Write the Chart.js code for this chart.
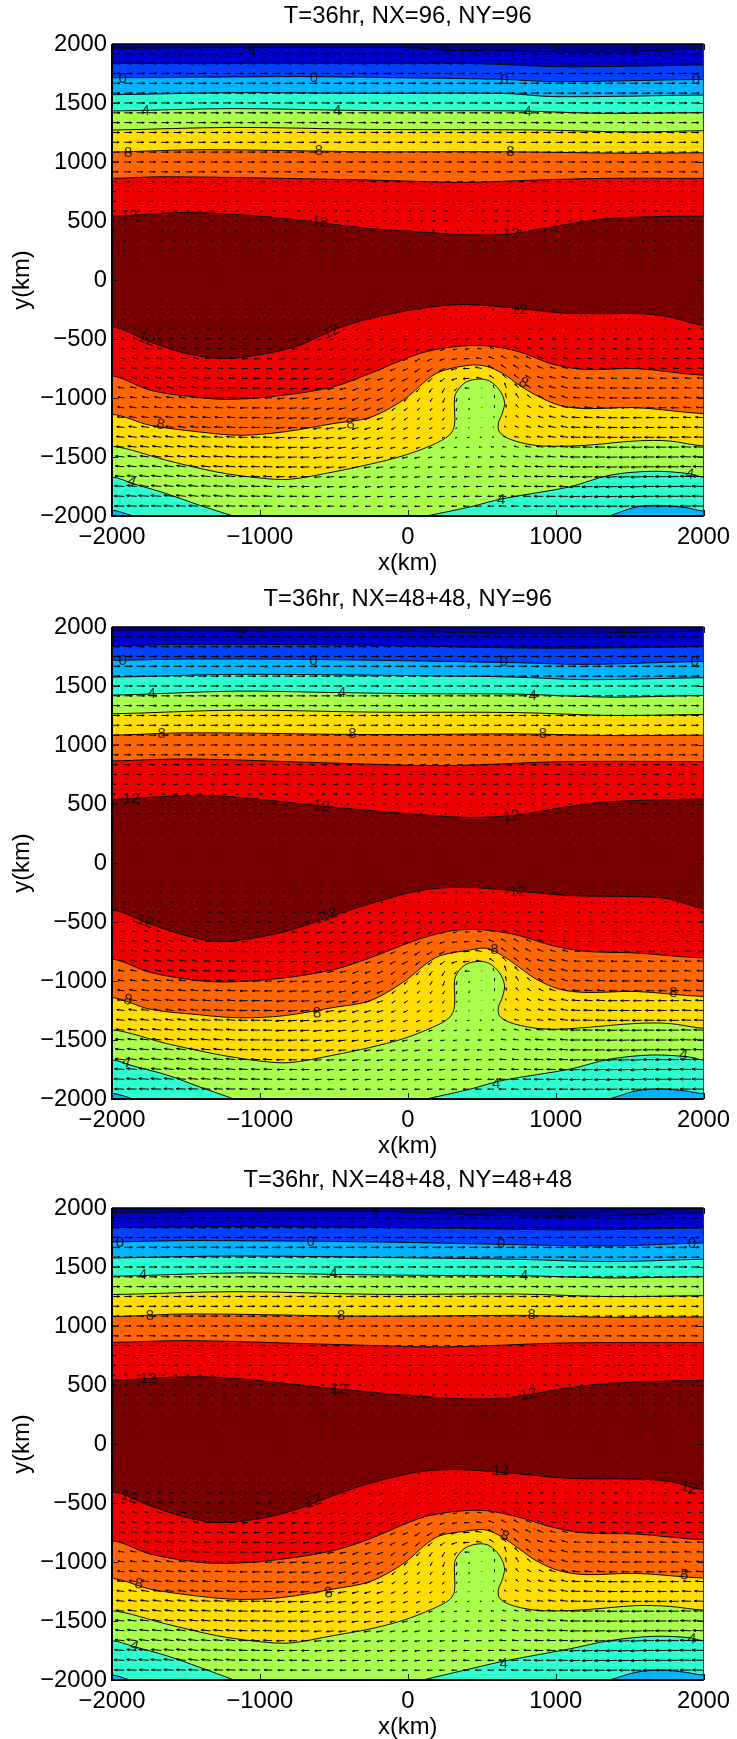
<!DOCTYPE html>
<html><head><meta charset="utf-8">
<script src="https://cdn.jsdelivr.net/npm/chart.js@4"></script>
<style>html,body{margin:0;padding:0;background:#fff;width:737px;height:1739px;overflow:hidden}
canvas{position:absolute;left:0}</style></head>
<body>
<canvas id="c0" width="737" height="580" style="top:0"></canvas>
<canvas id="c1" width="737" height="580" style="top:583px"></canvas>
<canvas id="c2" width="737" height="580" style="top:1164px"></canvas>
<script>
const titles=["T=36hr, NX=96, NY=96","T=36hr, NX=48+48, NY=96","T=36hr, NX=48+48, NY=48+48"];
const xTickStep=1000, yTickStep=500;
const bandColors=["#00008f","#0000cc","#0040ff","#00b4ff","#2cffd0","#aaff4d","#ffdd00","#ff6600","#ee0000","#770000"];

// contour lines, [x km, y km], panel 1
const p1a=[[-2000,1963],[-1181,1969],[0,1969],[237,1949],[1003,1935],[1543,1935],[2000,1960]];
const p1b=[[-2000,1836],[0,1836],[417,1836],[1003,1808],[1543,1812],[2000,1822]];
const p1c=[[-2000,1714],[-730,1723],[-258,1717],[642,1700],[1003,1680],[2000,1700]];
const p1d=[[-2000,1570],[-1181,1587],[-258,1581],[642,1581],[1003,1553],[2000,1567]];
const p1e=[[-2000,1432],[-1181,1452],[-258,1435],[755,1432],[1318,1412],[2000,1418]];
const p1f=[[-2000,1271],[-1181,1293],[-258,1276],[868,1271],[1543,1254],[2000,1265]];
const p1g=[[-2000,1084],[-1406,1104],[-258,1087],[642,1087],[1543,1073],[2000,1078]];
const p1h=[[-2000,861],[-1631,875],[-258,847],[372,827],[868,847],[1318,861],[2000,861]];
const p1i=[[-2000,541],[-1496,572],[-956,536],[-258,437],[80,408],[417,383],[687,389],[980,451],[1318,516],[1655,536],[2000,541]];
const p1j=[[-2000,-397],[-1743,-524],[-1496,-623],[-1226,-666],[-956,-623],[-730,-553],[-505,-425],[-258,-327],[80,-242],[372,-208],[755,-242],[1093,-284],[1543,-284],[1768,-312],[2000,-383]];
const p1k=[[-2000,-813],[-1743,-934],[-1406,-997],[-1181,-1011],[-843,-977],[-505,-906],[-258,-793],[80,-623],[305,-567],[530,-558],[755,-609],[980,-714],[1205,-759],[1543,-751],[2000,-807]];
const p1l=[[-2000,-1138],[-1743,-1231],[-1406,-1288],[-1136,-1316],[-843,-1288],[-505,-1217],[-258,-1166],[-33,-1019],[192,-793],[417,-722],[530,-731],[642,-793],[755,-892],[868,-977],[1025,-1062],[1205,-1090],[1543,-1081],[2000,-1132]];
const p1m=[[-2000,-1409],[-1631,-1528],[-1293,-1627],[-1001,-1678],[-798,-1689],[-505,-1627],[-258,-1562],[-33,-1490],[167,-1398],[282,-1314],[316,-1229],[316,-1000],[339,-932],[395,-864],[484,-839],[552,-856],[620,-932],[654,-1034],[640,-1127],[613,-1212],[620,-1288],[687,-1347],[842,-1398],[1000,-1409],[1205,-1401],[1543,-1364],[1768,-1364],[2000,-1406]];
const p1nL=[[-2000,-1670],[-1857,-1726],[-1631,-1811],[-1406,-1910],[-1181,-2000]];
const p1nR=[[125,-2000],[417,-1924],[642,-1853],[1093,-1754],[1363,-1655],[1655,-1621],[1903,-1641],[2000,-1670]];
const p1oL=[[-2000,-1952],[-1857,-2000]];
const p1oR=[[1363,-2000],[1543,-1924],[1678,-1910],[1880,-1929],[2000,-1958]];

// panel 2
const p2a=[[-2000,1972],[-1167,1966],[-217,1972],[416,1952],[1050,1943],[2000,1966]];
const p2b=[[-2000,1839],[-1484,1853],[-217,1844],[733,1822],[1367,1822],[2000,1833]];
const p2c=[[-2000,1717],[-1484,1728],[-534,1723],[733,1697],[1208,1683],[2000,1708]];
const p2d=[[-2000,1575],[-1167,1598],[100,1587],[733,1575],[1208,1553],[2000,1570]];
const p2e=[[-2000,1422],[-1167,1456],[-534,1445],[100,1434],[733,1431],[1367,1405],[2000,1420]];
const p2f=[[-2000,1264],[-1167,1295],[-217,1278],[733,1275],[1367,1250],[2000,1258]];
const p2g=[[-2000,1083],[-1484,1103],[-217,1088],[733,1094],[1367,1080],[2000,1083]];
const p2h=[[-2000,865],[-1484,882],[-534,848],[258,825],[1050,859],[2000,859]];
const p2i=[[-2000,539],[-1484,573],[-1167,559],[-534,477],[-59,423],[416,386],[733,406],[1050,471],[1367,519],[2000,542]];
const p2j=[[-2000,-398],[-1743,-517],[-1496,-616],[-1271,-667],[-956,-616],[-730,-545],[-505,-446],[-258,-347],[80,-234],[372,-205],[755,-239],[1093,-276],[1543,-285],[1768,-304],[2000,-384]];
const p2k=[[-2000,-814],[-1743,-927],[-1406,-998],[-1181,-1007],[-843,-975],[-505,-905],[-258,-805],[80,-644],[305,-573],[530,-568],[755,-616],[980,-701],[1205,-749],[1543,-763],[2000,-805]];
const p2l=[[-2000,-1140],[-1743,-1239],[-1406,-1287],[-1136,-1312],[-843,-1295],[-505,-1225],[-258,-1168],[-33,-1012],[192,-800],[417,-738],[530,-723],[642,-786],[755,-885],[868,-984],[1025,-1069],[1205,-1097],[1543,-1089],[2000,-1131]];
const p2m=[[-2000,-1414],[-1631,-1530],[-1293,-1621],[-1001,-1678],[-798,-1692],[-505,-1629],[-258,-1564],[-33,-1490],[167,-1393],[282,-1310],[316,-1215],[316,-995],[339,-925],[395,-858],[484,-834],[552,-852],[620,-930],[654,-1035],[640,-1135],[613,-1225],[620,-1295],[687,-1350],[842,-1396],[1000,-1409],[1205,-1394],[1543,-1360],[1768,-1360],[2000,-1400]];
const p2nL=[[-2000,-1669],[-1857,-1720],[-1631,-1796],[-1406,-1898],[-1181,-1997]];
const p2nR=[[125,-2000],[417,-1918],[642,-1842],[1093,-1748],[1363,-1663],[1655,-1627],[1903,-1644],[2000,-1669]];
const p2oL=[[-2000,-1952],[-1857,-2000]];
const p2oR=[[1363,-2000],[1543,-1932],[1700,-1915],[1880,-1932],[2000,-1955]];

// panel 3
const p3a=[[-2000,1960],[-1167,1972],[-217,1972],[574,1938],[1208,1932],[2000,1958]];
const p3b=[[-2000,1833],[-1167,1842],[100,1831],[733,1819],[1208,1814],[2000,1831]];
const p3c=[[-2000,1712],[-1484,1723],[-217,1712],[733,1689],[1367,1678],[2000,1703]];
const p3d=[[-2000,1576],[-1167,1593],[100,1576],[733,1565],[1367,1545],[2000,1565]];
const p3e=[[-2000,1421],[-1167,1449],[-534,1438],[100,1429],[733,1427],[1367,1407],[2000,1418]];
const p3f=[[-2000,1266],[-1167,1291],[-217,1268],[733,1271],[1367,1249],[2000,1257]];
const p3g=[[-2000,1079],[-1484,1102],[-217,1082],[733,1090],[1367,1073],[2000,1076]];
const p3h=[[-2000,861],[-1484,876],[-534,845],[258,823],[1050,856],[2000,859]];
const p3i=[[-2000,540],[-1484,570],[-1167,556],[-534,474],[-59,418],[416,381],[733,401],[1050,469],[1367,514],[2000,540]];
const p3j=[[-2000,-404],[-1743,-523],[-1496,-622],[-1271,-667],[-956,-622],[-730,-545],[-505,-438],[-258,-333],[80,-235],[372,-218],[755,-254],[1093,-291],[1543,-297],[1768,-317],[2000,-387]];
const p3k=[[-2000,-819],[-1743,-932],[-1406,-1003],[-1181,-1011],[-843,-975],[-505,-904],[-258,-805],[80,-630],[305,-574],[530,-565],[755,-622],[980,-706],[1205,-754],[1543,-763],[2000,-811]];
const p3l=[[-2000,-1139],[-1743,-1229],[-1406,-1291],[-1136,-1317],[-843,-1300],[-505,-1229],[-258,-1167],[-33,-1017],[192,-791],[417,-735],[530,-729],[642,-791],[755,-890],[868,-989],[1025,-1074],[1205,-1107],[1543,-1096],[2000,-1136]];
const p3m=[[-2000,-1413],[-1631,-1526],[-1293,-1624],[-1001,-1675],[-798,-1687],[-505,-1624],[-258,-1568],[-33,-1495],[167,-1398],[282,-1320],[316,-1245],[316,-1010],[339,-945],[395,-876],[484,-846],[552,-862],[620,-945],[654,-1050],[640,-1145],[613,-1235],[620,-1305],[687,-1360],[842,-1405],[1000,-1415],[1205,-1404],[1543,-1370],[1768,-1376],[2000,-1407]];
const p3nL=[[-2000,-1667],[-1857,-1715],[-1631,-1794],[-1406,-1893],[-1181,-1997]];
const p3nR=[[102,-2000],[417,-1907],[642,-1842],[1093,-1737],[1363,-1667],[1655,-1630],[1903,-1641],[2000,-1667]];
const p3oL=[[-2000,-1958],[-1880,-2000]];
const p3oR=[[1363,-2000],[1543,-1935],[1700,-1915],[1880,-1935],[2000,-1958]];

// contour labels: text, x km, y km, rotation deg
const labels1=[["-4",-1068,1955,0],["-4",242,1949,0],["-4",1520,1935,0],["0",-1928,1703,0],["0",-634,1712,0],["0",654,1695,0],["0",1948,1695,0],["4",-1773,1435,0],["4",-478,1435,0],["4",811,1426,0],["8",-1890,1078,0],["8",-600,1095,0],["8",694,1087,0],["12",-1883,544,0],["12",-595,488,8],["12",699,394,0],["12",-1766,-505,20],["12",-517,-440,-25],["8",-1671,-1226,10],["8",-388,-1223,-10],["4",-1867,-1712,20],["12",755,-256,0],["8",782,-872,30],["4",631,-1867,0],["4",1908,-1647,10]];
const labels2=[["-4",-1142,1963,0],["-4",141,1958,0],["-4",1436,1943,0],["0",-1927,1711,0],["0",-638,1711,0],["0",648,1703,0],["0",1940,1703,0],["4",-1731,1437,0],["4",-445,1442,0],["4",844,1420,0],["8",-1664,1094,0],["8",-375,1094,0],["8",914,1094,0],["12",-1870,542,0],["12",-584,480,8],["12",701,395,-8],["12",-1775,-497,20],["12",-530,-440,-20],["8",-1892,-1162,15],["8",-613,-1273,-5],["4",-1905,-1692,15],["12",744,-248,0],["8",586,-738,0],["8",1797,-1103,0],["4",597,-1870,0],["4",1865,-1629,10]];
const labels3=[["-4",-1547,1966,0],["-4",-239,1966,0],["-4",1028,1932,0],["0",-1946,1706,0],["0",-657,1712,0],["0",632,1692,0],["0",1921,1698,0],["4",-1791,1435,0],["4",-502,1441,0],["4",787,1424,0],["8",-1743,1085,0],["8",-451,1085,0],["8",838,1096,0],["12",-1756,554,0],["12",-467,463,5],["12",816,418,-10],["12",-1883,-452,20],["12",-640,-489,-18],["8",-1818,-1187,10],["8",-535,-1263,-8],["4",-1849,-1715,15],["12",627,-232,0],["12",1903,-373,15],["8",654,-783,25],["8",1869,-1110,5],["4",649,-1865,0],["4",1921,-1653,10]];

// wind: row values (px east) for rows y=1917 ... -333, 83.33 km apart
const rowU=[8,8.5,9,9,9,9,9,8.5,8.5,8,8,7.5,7,6,5,4.2,3.5,3,2.2,1.6,1.2,.9,.7,.5,.6,1,1.5,2].map((v,i)=>i>=24?-v:v);
// rows y=-417 ... -1917 at x=-2000,-1750 ... 2000
const uLow=[
[-3,-3,-3.5,-3.5,-3.5,-3.5,-3,-3,-3,-3,-3,-3,-3,-3,-3,-3,-3],
[-3.5,-4,-4,-4.5,-4.5,-4,-4,-3.5,-3.5,-3.5,-3.5,-3.5,-3.5,-3.5,-3.5,-3.5,-4],
[-4,-4.5,-5,-5,-5,-5,-4.5,-4.5,-4.5,-4.5,-4.5,-4.5,-4,-4,-4,-4,-4.5],
[-4.5,-5,-5.5,-6,-6,-5.5,-5,-5,-5,-5.5,-5.5,-5.5,-5,-5,-5,-5,-5.5],
[-5,-6,-6,-6.5,-6.5,-6,-6,-5.5,-5.5,-6,-7,-6.5,-6,-6,-6,-6,-6],
[-6,-6.5,-7,-7,-7,-7,-6.5,-6,-6,-5,-6,-5,-7,-7,-7,-7,-7],
[-7,-7,-7.5,-8,-8,-7.5,-7,-6.5,-5,-3,-1,-4,-7.5,-8,-8,-8,-7.5],
[-7,-7.5,-8,-8,-8,-8,-7.5,-7,-4,-2,0,-3,-7,-8,-8.5,-8.5,-8],
[-7.5,-8,-8.5,-8.5,-8.5,-8.5,-8,-7,-4,-2,0,-3,-7,-9,-9,-9,-8.5],
[-8,-8.5,-9,-9,-9,-9,-8.5,-7,-4,-2.5,0,-3,-7.5,-9.5,-10,-9.5,-9],
[-8.5,-9,-9,-9.5,-9.5,-9.5,-9,-7,-4.5,-2.5,-.5,-4,-8,-10,-10.5,-10,-10],
[-9,-9.5,-9.5,-10,-10,-10,-9,-7,-5,-3,-2,-4.5,-8.5,-10.5,-11,-11,-10.5],
[-9.5,-10,-10,-10,-10,-10,-9,-7.5,-5.5,-3.5,-3,-5,-9,-11,-11.5,-11.5,-11],
[-10,-10,-10,-10.5,-10.5,-10,-9,-7.5,-6,-4.5,-4,-6,-9,-11,-12,-12,-12],
[-10,-10.5,-10.5,-10.5,-10,-9.5,-8.5,-7.5,-6,-5,-5,-7,-9.5,-11,-12,-12.5,-12],
[-10.5,-11,-11,-10.5,-10,-9,-8,-7,-6,-5.5,-6,-7.5,-10,-11.5,-12.5,-13,-12.5],
[-11,-11.5,-11,-10.5,-9.5,-8.5,-7.5,-6.5,-6,-6,-6.5,-8,-10,-12,-13,-13,-13],
[-11.5,-12,-11,-10.5,-9.5,-8,-7,-6.5,-6,-6,-7,-8.5,-10.5,-12,-13,-13,-13],
[-11,-11,-11,-10,-9,-7.5,-7,-6,-6,-6,-7,-8.5,-10,-11.5,-12,-12.5,-12.5]];
const vLow=[
[.5,.7,.7,.3,0,-.3,-.6,-.8,-.8,-.6,-.3,0,.1,.2,.2,.3,.5],
[.7,1,1,.3,0,-.5,-.8,-1,-1,-.8,-.3,.3,.3,.2,.2,.3,.6],
[.8,1,1,.4,0,-.5,-1,-1.2,-1.5,-1.5,0,1.5,.6,.2,.2,.3,.6],
[.9,1.2,1.2,.5,-.1,-.6,-1.2,-1.5,-2,-2,0,2.5,1,.3,.2,.3,.6],
[1,1.2,1.2,.6,-.1,-.7,-1.3,-1.8,-2.5,-3,0,3.5,1.5,.4,.2,.3,.6],
[1,1.3,1.3,.6,-.1,-.8,-1.4,-2,-3,-4,1,4,2,.5,.2,.3,.6],
[1,1.3,1.3,.6,-.1,-.8,-1.5,-2.5,-3.5,-4.5,.5,4.5,2.2,.7,.2,.3,.7],
[1,1.3,1.2,.6,-.1,-.8,-1.5,-2.5,-3.5,-4,.5,4,2.2,.7,.1,.2,.7],
[1,1.3,1.2,.6,-.1,-.8,-1.5,-2.5,-3,-3.5,.5,3,2,.7,.1,.2,.6],
[1,1.3,1.2,.7,0,-.8,-1.5,-2.2,-2.5,-2.5,.3,2,1.7,.6,0,.1,.6],
[1,1.3,1.3,.8,0,-.7,-1.5,-2,-2,-1.5,.2,1.5,1.5,.5,0,.1,.5],
[1,1.3,1.3,.9,.1,-.7,-1.3,-1.8,-1.5,-1,0,1,1.2,.3,-.1,0,.5],
[1,1.3,1.3,1,.2,-.6,-1.2,-1.5,-1.3,-.8,0,1,1,.2,-.2,0,.5],
[1,1.3,1.3,1,.3,-.5,-1.1,-1.3,-1.2,-.7,0,.8,.8,0,-.4,0,.5],
[1,1.3,1.4,1,.4,-.4,-.9,-1.1,-1,-.6,0,.7,.6,-.2,-.5,.1,.5],
[1,1.3,1.4,1.1,.5,-.2,-.7,-.9,-.8,-.5,0,.5,.4,-.4,-.6,.1,.5],
[.8,1.2,1.3,1,.5,-.1,-.5,-.7,-.6,-.4,0,.4,.2,-.5,-.6,.1,.5],
[.6,1,1.2,1,.5,0,-.3,-.4,-.4,-.3,0,.2,0,-.4,-.4,.1,.4],
[.3,.5,.6,.5,.3,0,-.1,-.2,-.2,-.1,0,.1,0,-.2,-.2,0,.2]];
// around the bump: rows y=-583 ... -1417, grid columns x=83 ... 917
const uBump=[
[-4.5,-4.5,-4.5,-4.5,-4.5,-4.5,-4.5,-4.5,-4.5,-4.5,-4.5],
[-5.5,-5.5,-5.5,-5.5,-6,-6,-6,-5.5,-5.5,-5.5,-5.5],
[-6,-6,-6,-6.5,-7,-7,-6.5,-6,-6,-6,-6.5],
[-5,-5,-5,-6,-7,-6,-5,-4,-5,-6,-7],
[-4,-3.5,-3,-3,-5,0,-1,-2,-4,-5,-6],
[-3,-2.5,-2,-1,-.5,0,.5,-1,-3,-4,-5.5],
[-3,-2.5,-2,-1,-.5,0,.5,-.5,-3,-4,-5],
[-3,-3,-2.5,-1,-.5,0,0,-1,-3,-4.5,-6],
[-3.5,-3,-2.5,-1.5,-1,-.5,-1,-2,-4,-5,-6],
[-4,-3.5,-3,-2,-2,-2,-2,-3,-4.5,-5.5,-7],
[-4.5,-4,-3.5,-3,-3,-3,-3.5,-4,-5,-6.5,-7.5]];
const vBump=[
[-2,-2,-2,-1,-.5,.5,1.5,2,2,2,1.5],
[-3,-2.5,-2,-1,0,1,2,3,3,2.5,2],
[-4,-3.5,-3,-1.5,0,1.5,3,4,4,3,2.5],
[-4,-4,-3.5,-2,-.5,1,3,4.5,4,3,2],
[-4,-4.5,-5,-3,0,.5,3,6,5,3.5,2.5],
[-3.5,-4,-5,-4,-2,.5,3,5,5,3.5,2.5],
[-2.5,-3,-3.5,-3.5,-2,.5,2.5,3.5,3.5,2.5,2],
[-2,-2.2,-2.5,-2,-1,.3,1,2,2.5,2,1.5],
[-1.5,-1.5,-1.5,-1,-.5,.2,.7,1.5,1.5,1.5,1.5],
[-1.5,-1.2,-1,-.7,-.3,0,.5,1,1,1,1],
[-1.5,-1,-.8,-.5,-.2,.2,.5,.8,1,1,1]];

const STEP=4000/48, KX=6.0, KY=7.5;
function wind(i,j){
  if(j>=31&&j<=41&&i>=25&&i<=35) return [uBump[j-31][i-25],vBump[j-31][i-25]];
  if(j>=29){const c=Math.round(i*STEP/250);return [uLow[j-29][c],vLow[j-29][c]];}
  return [rowU[j-1],0];
}
function arrowPoints(){
  const pts=[];
  for(let j=1;j<=47;j++)for(let i=0;i<=48;i++){
    const [u,v]=wind(i,j);
    const x=-2000+i*STEP,y=2000-j*STEP;
    const tx=x+u*KX,ty=y+v*KY;
    const bx=-u*.3,by=-v*.3,sx=-v*.1,sy=u*.1;
    pts.push({x:x,y:y},{x:tx,y:ty},{x:tx,y:null},
      {x:tx+(bx+sx)*KX,y:ty+(by+sy)*KY},{x:tx,y:ty},{x:tx+(bx-sx)*KX,y:ty+(by-sy)*KY},{x:tx,y:null});
  }
  return pts;
}
function toPts(a){return a.map(p=>({x:p[0],y:p[1]}));}
const FAR=2600;
function wide(a){return [[-FAR,a[0][1]],...a,[FAR,a[a.length-1][1]]];}
function downPoly(a){return toPts([...wide(a),[FAR,-FAR],[-FAR,-FAR]]);}
function leftPoly(a){const e=a[a.length-1],p=a[a.length-2];
  return toPts([[-FAR,a[0][1]],...a,[e[0]+(e[0]-p[0])*.8,e[1]+(e[1]-p[1])*.8],[e[0]+(e[0]-p[0])*1.6,e[1]+(e[1]-p[1])*1.6],[e[0]+(e[0]-p[0])*1.6,-FAR*2],[-FAR,-FAR*2]]);}
function rightPoly(a){const s=a[0],n=a[1],e=a[a.length-1];
  return toPts([[s[0]+(s[0]-n[0])*1.6,-FAR*2],[s[0]+(s[0]-n[0])*1.6,s[1]+(s[1]-n[1])*1.6],[s[0]+(s[0]-n[0])*.8,s[1]+(s[1]-n[1])*.8],...a,[FAR,e[1]],[FAR,-FAR*2]]);}
function band(data,color){return {data,showLine:true,fill:'shape',backgroundColor:color,borderColor:'#0a0a0a',borderWidth:1,pointRadius:0,tension:.32,capBezierPoints:false};}

const C=bandColors;
const sets=[
 {top:[p1a,p1b,p1c,p1d,p1e,p1f,p1g,p1h,p1i],low:[p1j,p1k,p1l,p1m],nL:p1nL,nR:p1nR,oL:p1oL,oR:p1oR,labels:labels1},
 {top:[p2a,p2b,p2c,p2d,p2e,p2f,p2g,p2h,p2i],low:[p2j,p2k,p2l,p2m],nL:p2nL,nR:p2nR,oL:p2oL,oR:p2oR,labels:labels2},
 {top:[p3a,p3b,p3c,p3d,p3e,p3f,p3g,p3h,p3i],low:[p3j,p3k,p3l,p3m],nL:p3nL,nR:p3nR,oL:p3oL,oR:p3oR,labels:labels3}];

const framePlugin={id:'frame',
 afterDatasetsDraw(ch,args,o){
  const c=ch.ctx,a=ch.chartArea,xs=ch.scales.x,ys=ch.scales.y;
  c.save();
  // contour labels
  c.save();c.beginPath();c.rect(a.left,a.top,a.width,a.height);c.clip();
  c.font='15px "Liberation Sans"';c.textAlign='center';c.textBaseline='middle';c.fillStyle='rgba(10,10,10,.85)';
  for(const [t,x,y,r] of o.labels){
    c.save();c.translate(xs.getPixelForValue(x),ys.getPixelForValue(y));c.rotate(r*Math.PI/180);c.fillText(t,0,0);c.restore();
  }
  c.restore();
  // inward ticks
  c.strokeStyle='#111';c.lineWidth=1;c.beginPath();
  for(const t of xs.ticks){const p=Math.round(xs.getPixelForValue(t.value))+.5;c.moveTo(p,a.bottom);c.lineTo(p,a.bottom-6);c.moveTo(p,a.top);c.lineTo(p,a.top+6);}
  for(const t of ys.ticks){const p=Math.round(ys.getPixelForValue(t.value))+.5;c.moveTo(a.left,p);c.lineTo(a.left+6,p);c.moveTo(a.right,p);c.lineTo(a.right-6,p);}
  c.stroke();
  // box
  c.strokeStyle='#000';
  c.lineWidth=2;c.beginPath();c.moveTo(a.left,a.top);c.lineTo(a.left,a.bottom);c.lineTo(a.right,a.bottom);c.stroke();
  c.lineWidth=1.4;c.beginPath();c.moveTo(a.left,a.top);c.lineTo(a.right,a.top);c.stroke();
  c.strokeStyle='#333';c.lineWidth=1;c.beginPath();c.moveTo(a.right,a.top);c.lineTo(a.right,a.bottom);c.stroke();
  c.restore();
 }};
Chart.register(framePlugin);
const FONT='"Liberation Sans"';
const ax=v=>String(v).replace('-','\u2212');
sets.forEach((s,n)=>{
  const list=[];
  list.push(band(toPts([[-FAR,FAR],[FAR,FAR],[FAR,-FAR],[-FAR,-FAR]]),C[0]));
  s.top.forEach((a,i)=>list.push(band(downPoly(a),C[i+1])));
  s.low.forEach((a,i)=>list.push(band(downPoly(a),C[8-i])));
  list.push(band(leftPoly(s.nL),C[4]),band(rightPoly(s.nR),C[4]),band(leftPoly(s.oL),C[3]),band(rightPoly(s.oR),C[3]));
  list.push({data:arrowPoints(),showLine:true,fill:false,borderColor:'#000',borderWidth:1,pointRadius:0,tension:0,spanGaps:false,borderCapStyle:'butt'});
  list.forEach((d,i)=>{d.order=list.length-i;});
  new Chart(document.getElementById('c'+n),{type:'scatter',data:{datasets:list},
   options:{responsive:false,animation:false,events:[],
    layout:{padding:{left:0,right:32.5,top:0,bottom:0}},
    plugins:{legend:{display:false},tooltip:{enabled:false},
      title:{display:true,text:titles[n],color:'#000',font:{family:FONT,size:23.8,weight:'normal',lineHeight:1.2},padding:{top:2.6,bottom:12.8},align:'center',fullSize:false},
      frame:{labels:s.labels}},
    scales:{
     x:{type:'linear',min:-2000,max:2000,
        grid:{display:false,drawTicks:false},border:{display:false},
        afterFit(sc){sc.height=64;},
        ticks:{stepSize:xTickStep,autoSkip:false,maxRotation:0,padding:7,color:'#000',font:{family:FONT,size:23.8},callback:ax},
        title:{display:true,text:'x(km)',color:'#000',font:{family:FONT,size:23.8},padding:{top:0,bottom:2}}},
     y:{type:'linear',min:-2000,max:2000,
        grid:{display:false,drawTicks:false},border:{display:false},
        afterFit(sc){sc.width=112;},
        ticks:{stepSize:yTickStep,autoSkip:false,padding:5,color:'#000',font:{family:FONT,size:23.8},callback:ax},
        title:{display:true,text:'y(km)',color:'#000',font:{family:FONT,size:23.8},padding:{top:8,bottom:0}}}
    }}});
});
</script>
</body></html>
